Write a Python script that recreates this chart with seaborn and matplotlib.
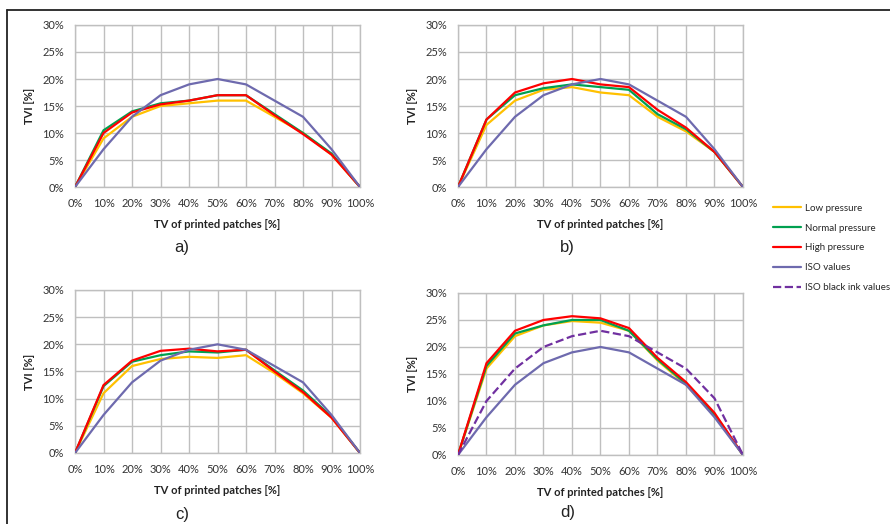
import matplotlib
matplotlib.use("Agg")
import matplotlib.pyplot as plt
from matplotlib.lines import Line2D
import seaborn as sns

# Data (TVI in % at 10 % steps of printed tone value)
tv = [0, 10, 20, 30, 40, 50, 60, 70, 80, 90, 100]
iso_values = [0, 7, 13, 17, 19, 20, 19, 16, 13, 7, 0]
iso_black = [0, 10, 16, 20, 22, 23, 22, 19, 16, 10.5, 0]

low_a = [0, 9, 13, 15, 15.5, 16, 16, 13, 10, 6, 0]
normal_a = [0, 10.5, 14, 15.5, 16, 17, 17, 13.5, 10, 6.2, 0]
high_a = [0, 10, 13.8, 15.3, 16, 17, 17, 13.3, 9.8, 6, 0]

low_b = [0, 11.5, 16, 18, 18.5, 17.5, 17, 13, 10.3, 6.5, 0]
normal_b = [0, 12.5, 17, 18.3, 19, 18.5, 18, 13.5, 10.7, 6.5, 0]
high_b = [0, 12.5, 17.5, 19.2, 20, 19, 18.5, 14.3, 11, 6.5, 0]

low_c = [0, 11, 16, 17.3, 17.7, 17.5, 18, 14.7, 11, 6.5, 0]
normal_c = [0, 12.3, 16.8, 18, 18.7, 18.5, 19, 15.2, 11.5, 6.7, 0]
high_c = [0, 12.5, 17, 18.8, 19.2, 18.7, 19, 15, 11.2, 6.5, 0]

low_d = [0, 16, 22, 24, 24.8, 24.5, 23, 17.5, 13, 7.5, 0]
normal_d = [0, 16.5, 22.5, 24, 25, 25, 23, 17.7, 13.2, 7.5, 0]
high_d = [0, 17, 23, 25, 25.7, 25.3, 23.5, 18, 13.5, 7.8, 0]

series_names = ["Low pressure", "Normal pressure", "High pressure",
                "ISO values", "ISO black ink values"]
colors = ["#FFC000", "#00A050", "#FF0000", "#6E6AAE", "#7030A0"]
panel_labels = ["a)", "b)", "c)", "d)"]
x_ticks = tv
x_tick_labels = [f"{v}%" for v in tv]
y_ticks = [0, 5, 10, 15, 20, 25, 30]
y_tick_labels = [f"{v}%" for v in y_ticks]

sns.set_style("white")
plt.rcParams["font.family"] = ["Lato", "DejaVu Sans"]

fig = plt.figure(figsize=(8.9, 5.24), dpi=100)

# axes rectangles in figure fractions
rects = [
    [0.0843, 0.6431, 0.3202, 0.3092],
    [0.5146, 0.6431, 0.3202, 0.3092],
    [0.0843, 0.1355, 0.3202, 0.3111],
    [0.5146, 0.1317, 0.3202, 0.3092],
]
panels = [
    [low_a, normal_a, high_a, iso_values],
    [low_b, normal_b, high_b, iso_values],
    [low_c, normal_c, high_c, iso_values],
    [low_d, normal_d, high_d, iso_values, iso_black],
]
label_pos = [(0.2045, 0.527), (0.638, 0.527), (0.2045, 0.018), (0.638, 0.021)]

for i, (rect, series) in enumerate(zip(rects, panels)):
    ax = fig.add_axes(rect)
    for j, vals in enumerate(series):
        ls = "--" if j == 4 else "-"
        sns.lineplot(x=tv, y=vals, ax=ax, color=colors[j], linewidth=1.6,
                     linestyle=ls, zorder=3 + j)
    ax.set_xlim(0, 100)
    ax.set_ylim(0, 30)
    ax.set_xticks(x_ticks)
    ax.set_xticklabels(x_tick_labels)
    ax.set_yticks(y_ticks)
    ax.set_yticklabels(y_tick_labels)
    ax.tick_params(length=0, labelsize=8, colors="#333333", pad=8)
    ax.grid(True, color="#BFBFBF", linewidth=1.0)
    for sp in ax.spines.values():
        sp.set_color("#BFBFBF")
        sp.set_linewidth(1.0)
    ax.set_xlabel("TV of printed patches [%]", fontsize=8, fontweight="bold",
                  labelpad=7, color="#222222")
    ax.set_ylabel("TVI [%]", fontsize=8, fontweight="bold", labelpad=5,
                  color="#222222")
    fig.text(label_pos[i][0], label_pos[i][1], panel_labels[i],
             fontsize=12, family="Liberation Sans", ha="center", va="center",
             color="#222222")

handles = [Line2D([0], [0], color=c, linewidth=1.6,
                  linestyle="--" if k == 4 else "-")
           for k, c in enumerate(colors)]
fig.legend(handles, series_names, loc="upper left",
           bbox_to_anchor=(0.859, 0.628), frameon=False, fontsize=7,
           handlelength=2.9, labelspacing=1.12, handletextpad=0.4)

# frame lines (top and left), as in the reference
fig.add_artist(Line2D([0.008, 1.0], [0.981, 0.981], transform=fig.transFigure,
                      color="#222222", linewidth=1.3))
fig.add_artist(Line2D([0.008, 0.008], [0.0, 0.981], transform=fig.transFigure,
                      color="#222222", linewidth=1.3))

fig.savefig("out.png", dpi=100, facecolor="white")
